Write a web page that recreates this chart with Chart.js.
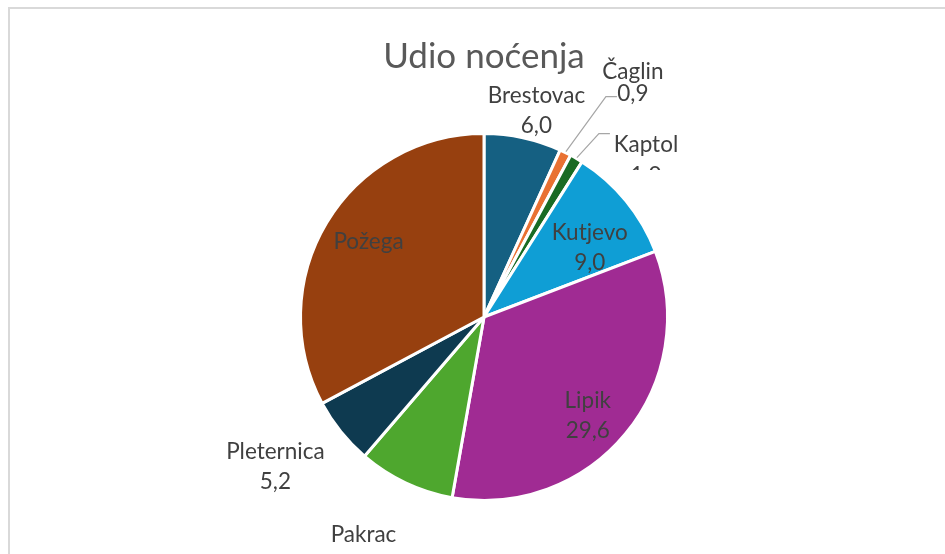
<!DOCTYPE html>
<html>
<head>
<meta charset="utf-8">
<script src="https://cdn.jsdelivr.net/npm/chart.js@4/dist/chart.umd.min.js"></script>
<style>
  body { margin: 0; background: #fff; }
  canvas { display: block; }
</style>
</head>
<body>
<canvas id="myChart" width="945" height="554"></canvas>
<script>
// udio nocenja po mjestima (vrijednosti s oznaka, Pakrac i Pozega procijenjeni iz kuta)
const places = ['Brestovac', 'Čaglin', 'Kaptol', 'Kutjevo', 'Lipik', 'Pakrac', 'Pleternica', 'Požega'];
const shares = [6.0, 0.9, 1.0, 9.0, 29.6, 7.5, 5.2, 28.9];
const showValue = [true, true, true, true, true, true, true, false];
const sliceColors = ['#156082', '#E97132', '#196B24', '#0F9ED5', '#A02B93', '#4EA72E', '#0E3A50', '#97400F'];

// where each label sits: r = share of radius, turn = degrees clockwise off the slice middle
const labelSpot = [
  { r: 1.16, turn: 2 },
  { lead: [40, -55], text: [16, -25], gap: 22 },
  { lead: [22, -24], text: [36, 11], gap: 31, clipBelow: 170 },
  { r: 0.69, turn: 6 },
  { r: 0.78, turn: 4 },
  { r: 1.43, turn: 2 },
  { r: 1.40, turn: 3 },
  { r: 0.75, turn: 2 }
];

const labelFont = '22.5px Lato';
const labelColor = '#404040';

function fmt(v) {
  return v.toFixed(1).replace('.', ',');
}

const frame = {
  id: 'frame',
  beforeDraw(chart) {
    const c = chart.ctx;
    c.save();
    c.strokeStyle = '#d9d9d9';
    c.lineWidth = 2;
    c.strokeRect(9, 8, 1000, 700);
    c.restore();
  }
};

const sliceLabels = {
  id: 'sliceLabels',
  afterDatasetsDraw(chart) {
    const c = chart.ctx;
    const arcs = chart.getDatasetMeta(0).data;
    c.save();
    c.font = labelFont;
    c.fillStyle = labelColor;
    c.textAlign = 'center';
    c.textBaseline = 'middle';
    arcs.forEach((arc, i) => {
      const p = arc.getProps(['x', 'y', 'startAngle', 'endAngle', 'outerRadius'], true);
      const spot = labelSpot[i];
      const mid = (p.startAngle + p.endAngle) / 2;
      const lines = [places[i]];
      if (showValue[i]) lines.push(fmt(shares[i]));
      if (spot.lead) {
        const sx = p.x + (p.outerRadius + 1) * Math.cos(mid);
        const sy = p.y + (p.outerRadius + 1) * Math.sin(mid);
        const ex = sx + spot.lead[0];
        const ey = sy + spot.lead[1];
        c.strokeStyle = '#a6a6a6';
        c.lineWidth = 1.2;
        c.beginPath();
        c.moveTo(sx, sy);
        c.lineTo(ex, ey);
        c.lineTo(ex + 11, ey);
        c.stroke();
        const tx = ex + 11 + spot.text[0];
        const ty = ey + spot.text[1];
        c.fillText(lines[0], tx, ty);
        if (lines[1]) {
          c.save();
          if (spot.clipBelow) {
            c.beginPath();
            c.rect(0, 0, 945, spot.clipBelow);
            c.clip();
          }
          c.fillText(lines[1], tx, ty + spot.gap);
          c.restore();
        }
      } else {
        const a = mid + spot.turn * Math.PI / 180;
        const cx = p.x + p.outerRadius * spot.r * Math.cos(a);
        const cy = p.y + p.outerRadius * spot.r * Math.sin(a);
        const half = (lines.length - 1) * 15;
        lines.forEach((t, k) => c.fillText(t, cx, cy - half + k * 30));
      }
    });
    c.restore();
  }
};

const ctx = document.getElementById('myChart');

new Chart(ctx, {
  type: 'pie',
  data: {
    labels: places,
    datasets: [{
      data: shares,
      backgroundColor: sliceColors,
      borderColor: '#ffffff',
      borderWidth: 3
    }]
  },
  options: {
    responsive: false,
    animation: false,
    layout: {
      padding: { left: 296, right: 273, top: 0, bottom: 52 }
    },
    plugins: {
      legend: { display: false },
      tooltip: { enabled: false },
      title: {
        display: true,
        text: 'Udio noćenja',
        color: '#595959',
        font: { family: 'Lato', size: 35, weight: 'normal' },
        padding: { top: 36, bottom: 54 }
      }
    }
  },
  plugins: [frame, sliceLabels]
});
</script>
</body>
</html>
